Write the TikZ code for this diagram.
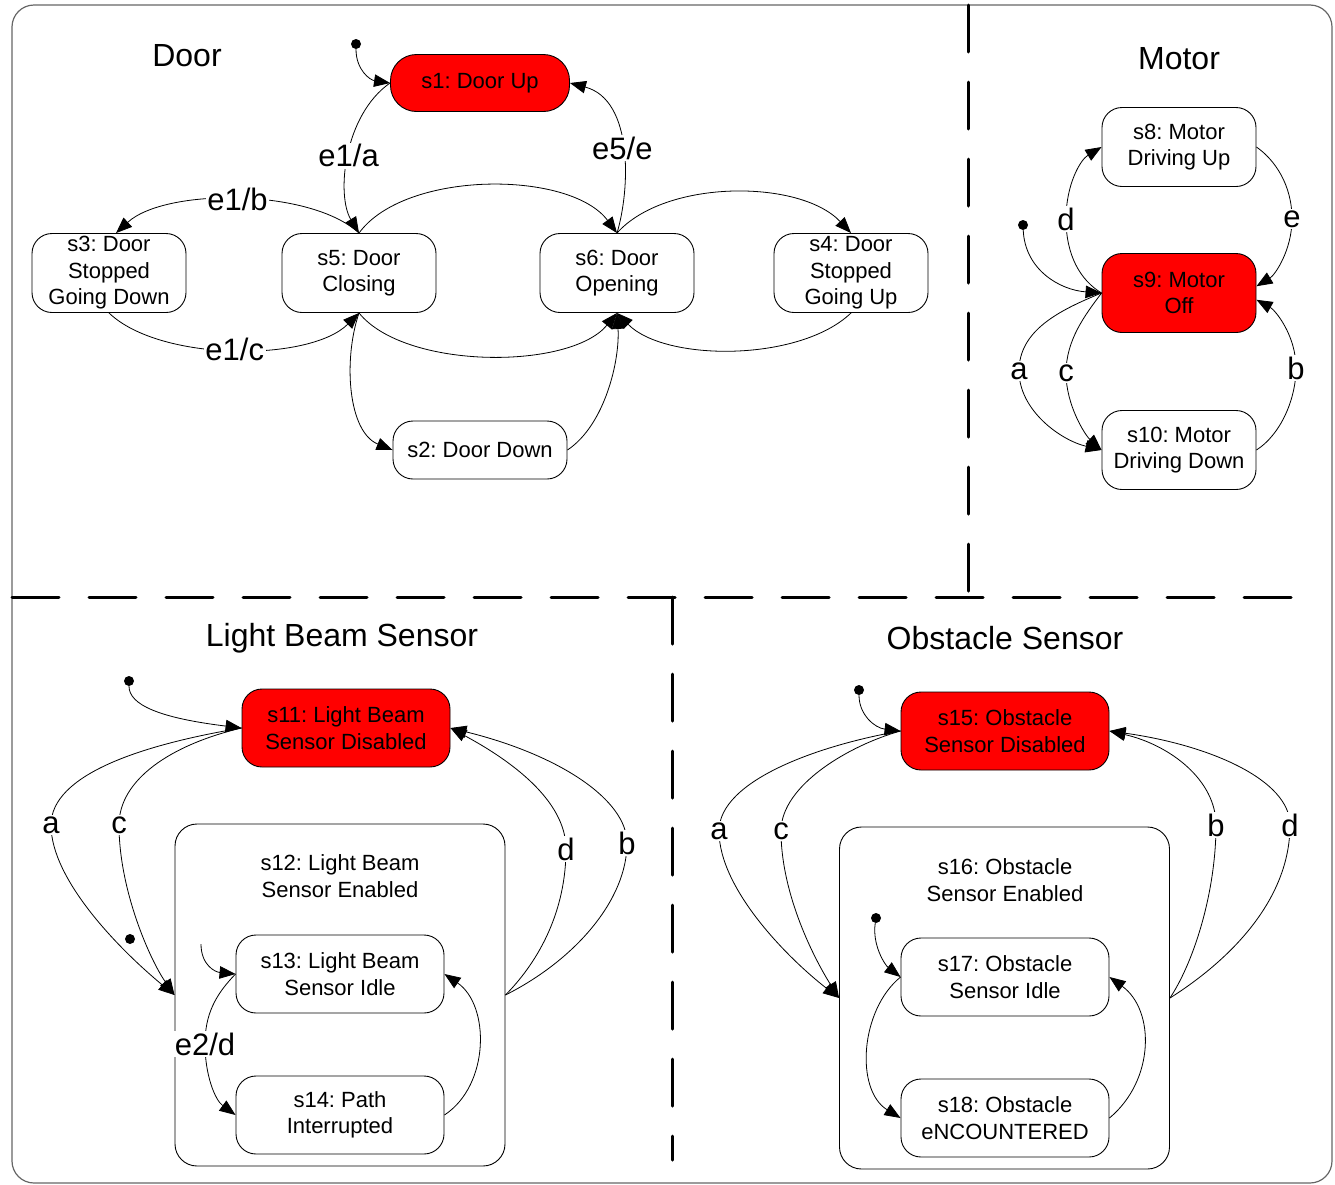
\documentclass[tikz,border=0pt]{standalone}
\usepackage{fontspec}
\setmainfont{Liberation Sans}
\usetikzlibrary{arrows.meta}
\frenchspacing

\begin{document}
\begin{tikzpicture}[x=1pt,y=-1pt,
  state/.style={draw=black, line width=0.9pt, rounded corners=20pt, align=center,
    font=\fontsize{22}{26.5}\selectfont, inner sep=0pt,
    minimum width=154pt, minimum height=79pt},
  active/.style={state, fill=red},
  wide/.style={minimum width=208pt, minimum height=78pt},
  composite/.style={state, minimum width=330pt, minimum height=342pt, rounded corners=22pt},
  statetext/.style={align=center, font=\fontsize{22}{26.5}\selectfont, inner sep=0pt},
  title/.style={font=\fontsize{32}{38}\selectfont, inner sep=0pt},
  lbl/.style={fill=white, inner sep=1.5pt, font=\fontsize{31}{36}\selectfont},
  tr/.style={line width=0.8pt, -{Triangle[length=16pt,width=12.5pt]}},
  dot/.style={circle, fill=black, inner sep=0pt, minimum size=10pt},
  divider/.style={line width=3pt, dash pattern=on 47pt off 30pt, line cap=round}
]
\useasboundingbox (0,0) rectangle (1335,1184);

% outer frame and region dividers
\draw[draw=black!60, line width=1.2pt, rounded corners=22pt] (12,5) rectangle (1332,1183);
\draw[divider] (968,5) -- (968,597);
\draw[divider] (12,597) -- (1318,597);
\draw[divider] (672,597) -- (672,1160);

% ---------------- Door ----------------
\node[title] (tdoor) at (187,56) {Door};
\node[active, minimum width=179pt, minimum height=57pt, rounded corners=26pt] (s1) at (480,83) {s1: Door Up};
\node[state] (s3) at (109,273) {s3: Door\\Stopped\\Going Down};
\node[state] (s5) at (359,273) {s5: Door\\Closing};
\node[state] (s6) at (617,273) {s6: Door\\Opening};
\node[state] (s4) at (851,273) {s4: Door\\Stopped\\Going Up};
\node[state, minimum width=174pt, minimum height=58pt] (s2) at (480,450) {s2: Door Down};
\node[dot] (i1) at (356,44) {};

\draw[tr] (i1) .. controls (356,70) and (370,80) .. (s1.west);
\draw[tr] (s1.west) .. controls (344,115) and (336,195) .. node[lbl] (l1) {e1/a} (s5.north);
\draw[tr] (s6.north) .. controls (630,190) and (634,100) .. node[lbl] (l2) {e5/e} (s1.east);
\draw[tr] (s5.north) .. controls (310,188) and (165,188) .. node[lbl] (l3) {e1/b} (s3.80);
\draw[tr] (s3.south) .. controls (160,362) and (310,362) .. node[lbl] (l4) {e1/c} (s5.south);
\draw[tr] (s5.north) .. controls (405,170) and (570,170) .. (s6.north);
\draw[tr] (s5.south) .. controls (405,370) and (570,370) .. (s6.south);
\draw[tr] (s5.south) .. controls (343,360) and (348,432) .. (s2.west);
\draw[tr] (s2.east) .. controls (605,425) and (620,360) .. (s6.south);
\draw[tr] (s6.north) .. controls (665,179) and (800,179) .. (s4.north);
\draw[tr] (s4.south) .. controls (800,362) and (665,362) .. (s6.south);

% ---------------- Motor ----------------
\node[title] (tmotor) at (1179,59) {Motor};
\node[state] (s8) at (1179,147) {s8: Motor\\Driving Up};
\node[active] (s9) at (1179,293) {s9: Motor\\Off};
\node[state] (s10) at (1179,450) {s10: Motor\\Driving Down};
\node[dot] (i2) at (1023,225) {};

\draw[tr] (i2) .. controls (1025,270) and (1060,290) .. (s9.west);
\draw[tr] (s9.west) .. controls (1080,280) and (1066,255) .. (1066,219) node[lbl] (m1) {d}
  .. controls (1066,185) and (1080,160) .. (s8.west);
\draw[tr] (s8.east) .. controls (1275,160) and (1292,185) .. (1292,219) node[lbl] (m2) {e}
  .. controls (1292,250) and (1275,275) .. (s9.5);
\draw[tr] (s10.east) .. controls (1280,435) and (1296,400) .. (1296,368) node[lbl] (m3) {b}
  .. controls (1296,335) and (1275,310) .. (s9.-5);
\draw[tr] (s9.west) .. controls (1060,310) and (1019,330) .. (1019,371) node[lbl] (m4) {a}
  .. controls (1019,410) and (1060,440) .. (s10.west);
\draw[tr] (s9.west) .. controls (1085,315) and (1066,340) .. (1066,373) node[lbl] (m5) {c}
  .. controls (1066,405) and (1085,435) .. (s10.west);

% ---------------- Light Beam Sensor ----------------
\node[title] (tlbs) at (342,638) {Light Beam Sensor};
\node[active, wide] (s11) at (346,728) {s11: Light Beam\\Sensor Disabled};
\node[composite] (s12) at (340,995) {};
\node[statetext] (s12t) at (340,876) {s12: Light Beam\\Sensor Enabled};
\node[state, wide] (s13) at (340,974) {s13: Light Beam\\Sensor Idle};
\node[state, wide] (s14) at (340,1115) {s14: Path\\Interrupted};
\node[dot] (i3) at (129,681) {};
\node[dot] (i4) at (130,939) {};
\coordinate (i4s) at (201,944);

\draw[tr] (i3) .. controls (129,705) and (160,718) .. (s11.west);
\draw[tr] (s11.west) .. controls (140,745) and (51,775) .. (51,825) node[lbl] (b1) {a}
  .. controls (51,880) and (120,950) .. (s12.west);
\draw[tr] (s11.west) .. controls (170,745) and (119,780) .. (119,825) node[lbl] (b2) {c}
  .. controls (119,890) and (150,960) .. (s12.west);
\draw[tr] (s12.east) .. controls (540,960) and (566,910) .. (566,849) node[lbl] (b3) {d}
  .. controls (566,800) and (510,760) .. (s11.east);
\draw[tr] (s12.east) .. controls (575,960) and (627,900) .. (627,843) node[lbl] (b4) {b}
  .. controls (627,800) and (560,755) .. (s11.east);
\draw[tr] (i4s) .. controls (201,965) and (215,972) .. (s13.west);
\draw[tr] (s13.west) .. controls (215,995) and (205,1015) .. (205,1044) node[lbl] (b5) {e2/d}
  .. controls (205,1075) and (215,1100) .. (s14.west);
\draw[tr] (s14.east) .. controls (490,1085) and (490,1005) .. (s13.east);

% ---------------- Obstacle Sensor ----------------
\node[title] (tobs) at (1005,638) {Obstacle Sensor};
\node[active, wide] (s15) at (1005,731) {s15: Obstacle\\Sensor Disabled};
\node[composite] (s16) at (1004.5,998) {};
\node[statetext] (s16t) at (1005,880) {s16: Obstacle\\Sensor Enabled};
\node[state, wide] (s17) at (1005,977) {s17: Obstacle\\Sensor Idle};
\node[state, wide] (s18) at (1005,1118) {s18: Obstacle\\eNCOUNTERED};
\node[dot] (i5) at (859,690) {};
\node[dot] (i6) at (876,918) {};

\draw[tr] (i5) .. controls (859,715) and (875,728) .. (s15.west);
\draw[tr] (s15.west) .. controls (820,745) and (719,780) .. (719,831) node[lbl] (o1) {a}
  .. controls (719,890) and (790,960) .. (s16.west);
\draw[tr] (s15.west) .. controls (850,745) and (781,785) .. (781,831) node[lbl] (o2) {c}
  .. controls (781,895) and (815,960) .. (s16.west);
\draw[tr] (s16.east) .. controls (1195,960) and (1216,890) .. (1216,825) node[lbl] (o3) {b}
  .. controls (1216,780) and (1170,745) .. (s15.east);
\draw[tr] (s16.east) .. controls (1230,960) and (1290,900) .. (1290,825) node[lbl] (o4) {d}
  .. controls (1290,780) and (1210,745) .. (s15.east);
\draw[tr] (i6) .. controls (872,945) and (885,965) .. (s17.west);
\draw[tr] (s17.west) .. controls (860,1010) and (855,1090) .. (s18.west);
\draw[tr] (s18.east) .. controls (1155,1080) and (1155,1010) .. (s17.east);

\end{tikzpicture}
\end{document}
